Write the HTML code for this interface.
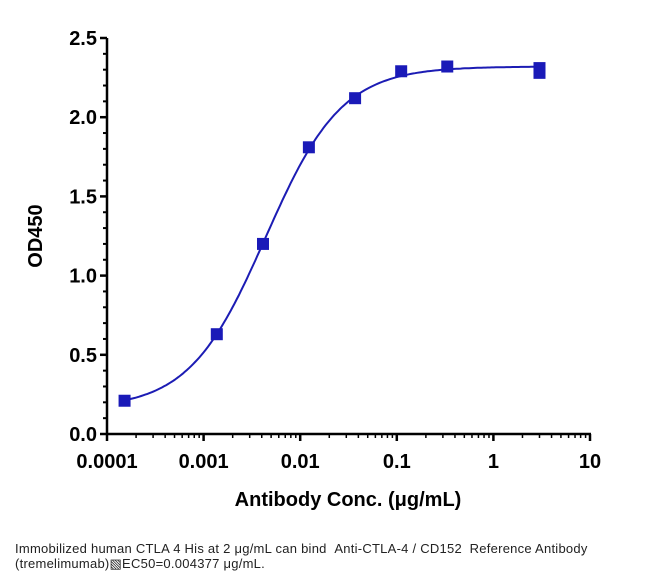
<!DOCTYPE html>
<html><head><meta charset="utf-8"><style>
body{margin:0;background:#fff;width:669px;height:582px;overflow:hidden;font-family:"Liberation Sans",sans-serif}
.cap{position:absolute;left:15px;top:541px;font-size:13px;line-height:15px;color:#222;letter-spacing:0.25px;white-space:nowrap}
</style></head><body>
<svg id="chart" width="669" height="540" style="position:absolute;left:0;top:0"></svg>
<div class="cap">Immobilized human CTLA 4 His at 2 μg/mL can bind &nbsp;Anti-CTLA-4 / CD152 &nbsp;Reference Antibody<br>(tremelimumab)&#9639;EC50=0.004377 μg/mL.</div>
<script>
const concs=[0.000152,0.00137,0.00412,0.0123,0.037,0.111,0.333,3,3];
const ods=[0.21,0.63,1.20,1.81,2.12,2.29,2.32,2.31,2.28];
const xTicks=[0.0001,0.001,0.01,0.1,1,10];
const xTickLabels=["0.0001","0.001","0.01","0.1","1","10"];
const yTicks=[0,0.5,1.0,1.5,2.0,2.5];
const yTickLabels=["0.0","0.5","1.0","1.5","2.0","2.5"];
const fitBottom=0.16, fitTop=2.32, fitEC50=0.004377, fitHill=1.1;

const NS="http://www.w3.org/2000/svg";
const svg=document.getElementById('chart');
const X0=107,X1=590,Y0=434,Y1=38;
const sx=v=>X0+(Math.log10(v)+4)/5*(X1-X0);
const sy=v=>Y0-v/2.5*(Y0-Y1);
function mk(t,a){const e=document.createElementNS(NS,t);for(const k in a)e.setAttribute(k,a[k]);svg.appendChild(e);return e;}
let e=mk('line',{x1:X0,y1:Y1,x2:X0,y2:Y0+1,stroke:'#000','stroke-width':2.5});


e=mk('line',{x1:X0-1,y1:Y0,x2:X1+1,y2:Y0,stroke:'#000','stroke-width':2.5});


yTicks.forEach((v,i)=>{
  let t=mk('line',{x1:X0-7,x2:X0,y1:sy(v),y2:sy(v),stroke:'#000','stroke-width':2.5});
  
  
  let l=mk('text',{x:X0-10,y:sy(v)+7,'text-anchor':'end','font-size':20,'font-weight':'bold','font-family':'Liberation Sans, sans-serif'});
  l.textContent=yTickLabels[i];
  
  
});
for(let v=0.1;v<2.5;v+=0.1){ if(Math.abs(v*2-Math.round(v*2))<1e-6) continue;
  let t=mk('line',{x1:X0-4,x2:X0,y1:sy(v),y2:sy(v),stroke:'#000','stroke-width':2});
  
  
}
xTicks.forEach((v,i)=>{
  let t=mk('line',{x1:sx(v),x2:sx(v),y1:Y0,y2:Y0+7,stroke:'#000','stroke-width':2.5});
  
  
  let l=mk('text',{x:sx(v),y:Y0+34,'text-anchor':'middle','font-size':20,'font-weight':'bold','font-family':'Liberation Sans, sans-serif'});
  l.textContent=xTickLabels[i];
  
  
  if(i<xTicks.length-1) for(let m=2;m<10;m++){
    let mt=mk('line',{x1:sx(v*m),x2:sx(v*m),y1:Y0,y2:Y0+4,stroke:'#000','stroke-width':1.5});
    
    
  }
});
e=mk('text',{x:348,y:506,'text-anchor':'middle','font-size':20,'font-weight':'bold','font-family':'Liberation Sans, sans-serif'});
e.textContent='Antibody Conc. (μg/mL)';


e=mk('text',{x:0,y:0,'text-anchor':'middle','font-size':20,'font-weight':'bold','font-family':'Liberation Sans, sans-serif',transform:'translate(42,236) rotate(-90)'});
e.textContent='OD450';


let d='';
const lo=Math.log10(concs[0]),hi=Math.log10(Math.max(...concs));
for(let i=0;i<=200;i++){const lx=lo+(hi-lo)*i/200,c=Math.pow(10,lx);
  const y=fitBottom+(fitTop-fitBottom)/(1+Math.pow(fitEC50/c,fitHill));
  d+=(i?'L':'M')+sx(c).toFixed(1)+','+sy(y).toFixed(1);}
e=mk('path',{d:d,fill:'none',stroke:'#1c1cb4','stroke-width':2});


concs.forEach((c,i)=>{
  let r=mk('rect',{x:sx(c)-6,y:sy(ods[i])-6,width:12,height:12,fill:'#1a1ab8'});
  
  
});
</script>
</body></html>
